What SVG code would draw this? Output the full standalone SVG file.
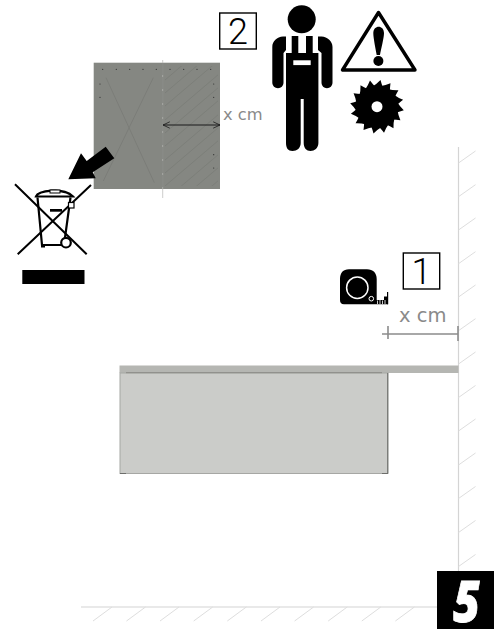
<svg xmlns="http://www.w3.org/2000/svg" width="494" height="629" viewBox="0 0 494 629">
<style>
.hatch{fill:none;stroke:#dedede;stroke-width:1}
.wall{fill:none;stroke:#d4d4d4;stroke-width:1.2}
.lbl{font-family:"DejaVu Sans",sans-serif;fill:#8a8a8a}
.num{font-family:Roboto,sans-serif;font-weight:300;fill:#000;text-anchor:middle;font-size:36px}
.box{fill:#fff;stroke:#000;stroke-width:1.4}
.dot{fill:#2e2e2e}
</style>
<defs>
<marker id="open" viewBox="0 0 10 10" refX="9.5" refY="5" markerWidth="8" markerHeight="8" markerUnits="userSpaceOnUse" orient="auto-start-reverse"><path d="M1 1 9.5 5 1 9" fill="none" stroke="#1a1a1a" stroke-width="1"/></marker>
<path id="tooth" d="M-5-20 Q0-23 3.500-26.800 Q4.500-23 6-19Z" fill="#000"/>
<clipPath id="hatchclip"><rect x="164" y="66" width="54" height="120"/></clipPath>
</defs>
<rect width="494" height="629" fill="#fff"/>

<g id="wall">
<path class="wall" d="M458.500 147V572"/>
<path class="hatch" d="M458.500 163 475.500 151M458.500 196.700 475.500 184.700M458.500 230 475.500 218M458.500 263.700 475.500 251.700M458.500 297 475.500 285M458.500 330.700 475.500 318.700M458.500 364 475.500 352M458.500 397.500 475.500 385.500M458.500 431 475.500 419M458.500 465 475.500 453M458.500 498.500 475.500 486.500M458.500 532.500 475.500 520.500M458.500 566.500 475.500 554.500"/>
</g>
<g id="floor">
<path class="wall" d="M81 607H437"/>
<path class="hatch" d="M112 607 93 621M145.500 607 126.500 621M179 607 160 621M212.700 607 193.700 621M246.300 607 227.300 621M280 607 261 621M313.600 607 294.600 621M347.200 607 328.200 621M380.800 607 361.800 621M414.400 607 395.400 621"/>
</g>

<g id="panel">
<rect x="93.700" y="62.700" width="126.300" height="126.300" fill="#858782"/>
<path d="M106 77.700 154.300 182.700M153.300 77.700 103.300 181" fill="none" stroke="#777974" stroke-width="0.700"/>
<path clip-path="url(#hatchclip)" d="M165 80l54-46M165 93l54-46M165 106l54-46M165 120l54-46M165 133l54-46M165 146l54-46M165 160l54-46M165 173l54-46M165 186l54-46M165 200l54-46M165 213l54-46M165 226l54-46M165 240l54-46" fill="none" stroke="#797b76" stroke-width="0.700"/>
<path d="M162.700 60V198" fill="none" stroke="#b8b9b6" stroke-width="0.700"/>
<path d="M162.700 63V189" fill="none" stroke="#757772" stroke-width="0.700" stroke-dasharray="12 2"/>
<g class="dot">
<circle cx="102.700" cy="69.300" r=".6"/><circle cx="116.300" cy="69.300" r=".6"/><circle cx="129.700" cy="69.300" r=".6"/><circle cx="143" cy="69.300" r=".6"/><circle cx="156.300" cy="69.300" r=".6"/><circle cx="170" cy="69.300" r=".6"/><circle cx="183.700" cy="69.300" r=".6"/><circle cx="197" cy="69.300" r=".6"/><circle cx="210.700" cy="69.300" r=".6"/>
<circle cx="100" cy="84" r=".6"/><circle cx="100" cy="97.300" r=".6"/>
<circle cx="213.700" cy="84" r=".6"/><circle cx="213.700" cy="97.300" r=".6"/><circle cx="213.700" cy="154.700" r=".6"/><circle cx="213.700" cy="168" r=".6"/>
</g>
<path d="M163 125H220" fill="none" stroke="#1a1a1a" stroke-width="1.100" marker-start="url(#open)" marker-end="url(#open)"/>
<text class="lbl" x="223" y="120" font-size="16.300">x cm</text>
</g>

<g id="step-2">
<rect class="box" x="219.700" y="13" width="36.600" height="36"/>
<text class="num" x="238" y="44">2</text>
</g>

<g id="worker">
<circle cx="301.700" cy="19.300" r="14"/>
<path d="M286 36.500H283C277 37 272.300 41 272.300 47V82.500C272.300 86 275 88.200 278 88.200S283.500 86 283.500 82.500V53L286 50Z"/>
<path d="M318 36.500H321.500C327.500 37 332.500 41 332.500 47V82.500C332.500 86 330 88.200 327 88.200S321.500 86 321.500 82.500V53L318 50Z"/>
<path d="M291.700 36H298.300V53H306V36H312.700V53H318.400V143C318.400 148 314.500 151 310.500 151S303.700 148 303.700 143V99H300.700V143C300.700 148 297 151 292.500 151S286 148 286 143V53H291.700Z"/>
<rect x="293.300" y="60.300" width="17.400" height="4.800" fill="#fff"/>
</g>

<g id="warning">
<path d="M378.500 12.500 342.500 70H415Z" fill="#fff" stroke="#000" stroke-width="3.400" stroke-linejoin="round"/>
<path d="M373.300 33C373.300 24.500 384 24.500 384 33C384 38 381 49 380 55H376.700C375.700 49 373.300 38 373.300 33Z"/>
<circle cx="378.400" cy="61" r="5"/>
</g>

<g id="saw">
<g transform="translate(377 106.700)">
<circle r="21"/>
<use href="#tooth"/><use href="#tooth" transform="rotate(22.500)"/><use href="#tooth" transform="rotate(45)"/><use href="#tooth" transform="rotate(67.500)"/><use href="#tooth" transform="rotate(90)"/><use href="#tooth" transform="rotate(112.500)"/><use href="#tooth" transform="rotate(135)"/><use href="#tooth" transform="rotate(157.500)"/><use href="#tooth" transform="rotate(180)"/><use href="#tooth" transform="rotate(202.500)"/><use href="#tooth" transform="rotate(225)"/><use href="#tooth" transform="rotate(247.500)"/><use href="#tooth" transform="rotate(270)"/><use href="#tooth" transform="rotate(292.500)"/><use href="#tooth" transform="rotate(315)"/><use href="#tooth" transform="rotate(337.500)"/>
<circle r="5.500" fill="#fff"/>
</g>
</g>

<g id="recycle-bin">
<path d="M68.300 179.300 81 153.300 86.700 161 105.700 146.700 114.300 158.300 92.700 172.300 95.700 178.300Z"/>
<path d="M15 184.300 86.700 254.300M91 185 17.700 254.300" fill="none" stroke="#000" stroke-width="2"/>
<path d="M37.500 197.500 42 245H64L70.500 197.500" fill="none" stroke="#000" stroke-width="2.200"/>
<path d="M36 196.500C38 191 50 191 54 190.500C60 191 68 191 73 196.500Z" fill="#fff" stroke="#000" stroke-width="2.200"/>
<rect x="50" y="190" width="10" height="3" fill="#fff" stroke="#000" stroke-width="1"/>
<rect x="50" y="209" width="12" height="2.700"/>
<rect x="68.500" y="202.500" width="5.500" height="5.500" fill="#fff" stroke="#000" stroke-width="1.200"/>
<rect x="41" y="245" width="4" height="2.500"/>
<circle cx="66" cy="242.700" r="4.800" fill="#fff" stroke="#000" stroke-width="2.200"/>
<rect x="22.300" y="270" width="62.200" height="14"/>
</g>

<g id="tape-measure">
<path d="M349 269.300H367C373 269.300 376.700 273 376.700 279V300H388V304.300H344C341 304.300 340 302.500 340 300V279C340 273 343 269.300 349 269.300Z"/>
<path d="M387 292H388.200V304.300H387Z"/>
<circle cx="357.300" cy="287.700" r="10.700" fill="none" stroke="#fff" stroke-width="1.500"/>
<circle cx="371.300" cy="298.700" r="2.300" fill="none" stroke="#fff" stroke-width="1"/>
<path d="M377.500 300.500V304M380 298.500V304M382.500 300.500V304M385 298.500V304" fill="none" stroke="#fff" stroke-width="0.800"/>
<path d="M384 300V296.500H388V300Z"/>
</g>

<g id="step-1">
<rect class="box" x="403.300" y="253" width="36.400" height="36"/>
<text class="num" x="421.500" y="284">1</text>
</g>

<g id="dimension">
<text class="lbl" x="399" y="322" font-size="19.500">x cm</text>
<path d="M382 334H458M388 326V339M458 326V341" fill="none" stroke="#8c8c8c" stroke-width="1.600"/>
</g>

<g id="cabinet">
<rect x="119.500" y="365.500" width="339" height="7.500" fill="#b5b6b2"/>
<rect x="120" y="373" width="268" height="100.500" fill="#cbccc9" stroke="#a6a7a4" stroke-width="1"/>
<path d="M126 372.700H382" fill="none" stroke="#8a8b87" stroke-width="1"/>
<path d="M387.700 373V473" fill="none" stroke="#6d6e6b" stroke-width="1"/>
<path d="M120 473.500H126M382 473.500H388" fill="none" stroke="#6d6e6b" stroke-width="1.200"/>
</g>

<g id="step-5">
<rect x="437" y="571" width="57" height="58"/>
<text transform="translate(466.500 621.500) scale(.82 1)" font-family="'Open Sans','DejaVu Sans',sans-serif" font-weight="800" font-style="italic" font-size="56" fill="#fff" stroke="#fff" stroke-width="0.800" text-anchor="middle">5</text>
</g>
</svg>
